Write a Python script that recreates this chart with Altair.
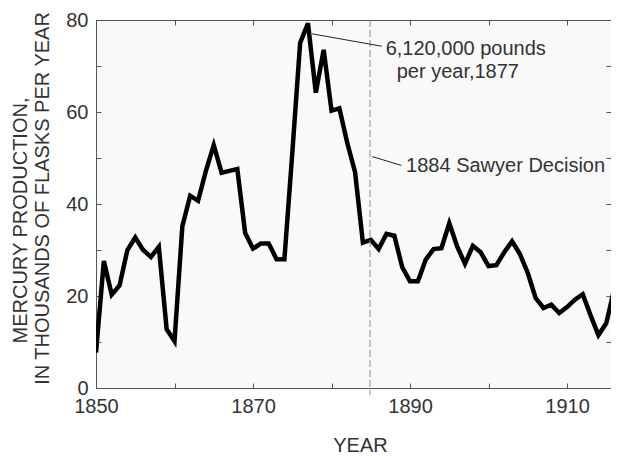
import altair as alt
import pandas as pd

# ---- data ----
years = list(range(1850, 1918))
production = [7.7, 27.6, 20.3, 22.3, 30.0, 32.7, 30.0, 28.5, 30.7, 12.8,
              10.2, 35.2, 41.8, 40.7, 47.2, 52.8, 46.8, 47.2, 47.6, 33.7,
              30.3, 31.4, 31.4, 28.0, 28.0, 51.0, 75.0, 79.3, 64.2, 73.5,
              60.3, 60.8, 53.3, 46.9, 31.6, 32.2, 30.2, 33.5, 33.1, 26.3,
              23.2, 23.2, 27.9, 30.2, 30.4, 35.8, 30.8, 27.0, 30.9, 29.5,
              26.5, 26.7, 29.5, 31.9, 29.1, 25.0, 19.6, 17.4, 18.1, 16.3,
              17.6, 19.2, 20.4, 15.8, 11.5, 14.1, 21.4, 24.0]

x_ticks = [1850, 1860, 1870, 1880, 1890, 1900, 1910]
x_labels = [1850, 1870, 1890, 1910]
y_ticks = [0, 10, 20, 30, 40, 50, 60, 70, 80]
y_labels = [0, 20, 40, 60, 80]

sawyer_year = [1884.9]
sawyer_top = [80]
sawyer_bottom = [-1.5]

ann_text = ["6,120,000 pounds", "per year,1877", "1884 Sawyer Decision"]
ann_x = [1886.9, 1888.3, 1889.5]
ann_y = [73.7, 68.8, 48.2]

lead_x1 = [1877.5, 1885.2]
lead_y1 = [77.0, 50.3]
lead_x2 = [1886.4, 1888.9]
lead_y2 = [74.3, 48.4]

# ---- tables ----
df = pd.DataFrame({"year": years, "production": production})
rule_df = pd.DataFrame({"year": sawyer_year, "top": sawyer_top, "bottom": sawyer_bottom})
ann_df = pd.DataFrame({"label": ann_text, "x": ann_x, "y": ann_y})
lead_df = pd.DataFrame({"x1": lead_x1, "y1": lead_y1, "x2": lead_x2, "y2": lead_y2})

FONT = "Liberation Sans"
TXT = "#333333"
AX = "#555555"

xs = alt.Scale(domain=[1850, 1915.6], nice=False, zero=False)
ys = alt.Scale(domain=[0, 80], nice=False, zero=False)

line = alt.Chart(df).mark_line(color="black", strokeWidth=4.5, clip=True).encode(
    x=alt.X("year:Q", scale=xs, axis=alt.Axis(
        orient="bottom", values=x_labels, format="d", ticks=False, domain=False, grid=False,
        labelFlush=False, labelFontSize=20, labelPadding=8, labelColor=TXT, labelFont=FONT,
        title="YEAR", titleFontSize=20, titleFont=FONT, titleFontWeight="normal",
        titleColor=TXT, titleX=264, titleY=57, titleBaseline="middle", titleAlign="center")),
    y=alt.Y("production:Q", scale=ys, axis=alt.Axis(
        orient="left", values=y_labels, ticks=False, domain=False, grid=False,
        labelFlush=False, labelFontSize=20, labelPadding=8, labelColor=TXT, labelFont=FONT,
        title="IN THOUSANDS OF FLASKS PER YEAR", titleFontSize=20, titleFont=FONT,
        titleFontWeight="normal", titleColor=TXT, titleAngle=270, titleAlign="center",
        titleBaseline="middle", titleX=-54, titleY=178)),
)

rule = alt.Chart(rule_df).mark_rule(color="#8a8a8a", strokeWidth=1, strokeDash=[7, 3]).encode(
    x=alt.X("year:Q", scale=xs, axis=alt.Axis(
        orient="bottom", values=x_ticks, offset=-5, tickSize=5, tickColor=AX, tickWidth=1,
        labels=False, domain=False, grid=False, title=None)),
    y=alt.Y("top:Q", scale=ys, axis=alt.Axis(
        orient="left", values=y_ticks, offset=-5, tickSize=5, tickColor=AX, tickWidth=1,
        labels=False, domain=False, grid=False,
        title="MERCURY PRODUCTION,", titleFontSize=20, titleFont=FONT,
        titleFontWeight="normal", titleColor=TXT, titleAngle=270, titleAlign="center",
        titleBaseline="middle", titleX=-81, titleY=200)),
    y2="bottom:Q",
)

text = alt.Chart(ann_df).mark_text(
    align="left", baseline="middle", fontSize=20, font=FONT, color=TXT
).encode(
    x=alt.X("x:Q", scale=xs, axis=alt.Axis(
        orient="top", values=x_ticks, offset=-5, tickSize=5, tickColor=AX, tickWidth=1,
        labels=False, domain=False, grid=False, title=None)),
    y=alt.Y("y:Q", scale=ys, axis=alt.Axis(
        orient="right", values=y_ticks, offset=-5, tickSize=5, tickColor=AX, tickWidth=1,
        labels=False, domain=False, grid=False, title=None)),
    text="label:N",
)

leaders = alt.Chart(lead_df).mark_rule(color="#222222", strokeWidth=1).encode(
    x=alt.X("x1:Q", scale=xs, axis=None),
    y=alt.Y("y1:Q", scale=ys, axis=None),
    x2="x2:Q",
    y2="y2:Q",
)

chart = alt.layer(line, rule, text, leaders).resolve_axis(
    x="independent", y="independent"
).properties(
    width=515,
    height=368,
    autosize=alt.AutoSizeParams(type="none"),
    padding={"left": 88, "top": 12, "right": 0, "bottom": 66},
).configure_view(
    fill="#f9f9f9", stroke=AX, strokeWidth=1
)

chart.save("out.html", embed_options={"renderer": "svg", "actions": False})
